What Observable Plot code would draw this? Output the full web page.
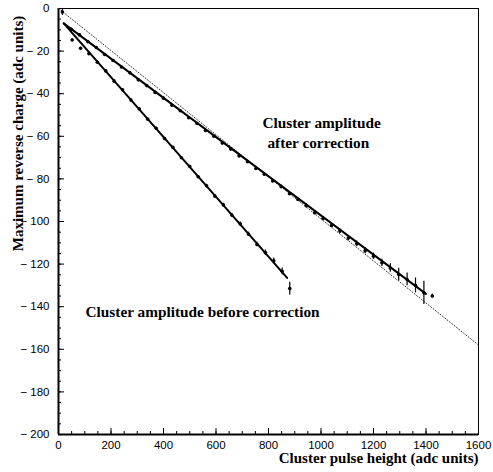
<!DOCTYPE html>
<html>
<head>
<meta charset="utf-8">
<script src="https://cdn.jsdelivr.net/npm/d3@7"></script>
<script src="https://cdn.jsdelivr.net/npm/@observablehq/plot@0.6"></script>
<style>
  html, body { margin: 0; padding: 0; background: #fff; }
  #chart { width: 493px; height: 472px; }
</style>
</head>
<body>
<div id="chart"></div>
<script>
// ---- data ----
const afterX = [15, 48, 80, 112, 144, 176, 208, 240, 272, 304, 336, 368, 400, 432, 464, 496, 528, 560, 592, 624, 656, 688, 720, 752, 784, 816, 848, 880, 912, 944, 976, 1008, 1040, 1072, 1104, 1136, 1168, 1200, 1232, 1264, 1296, 1328, 1360, 1392, 1424];
const afterY = [-1.7, -9.8, -12.4, -15.6, -18.3, -21.6, -24.4, -27.5, -30.2, -33.5, -36.2, -39.4, -42.1, -45.4, -48.0, -51.3, -54.0, -57.3, -60.0, -63.2, -66.0, -69.2, -71.9, -75.1, -77.8, -81.0, -83.7, -87.0, -89.7, -92.6, -95.9, -98.6, -101.9, -104.5, -107.8, -110.4, -113.7, -116.3, -119.4, -121.8, -124.9, -127.2, -130.0, -133.5, -135.0];
const afterErr = [1.5, 0.5, 0.5, 0.5, 0.5, 0.5, 0.5, 0.5, 0.5, 0.5, 0.5, 0.5, 0.5, 0.5, 0.5, 0.5, 0.5, 0.6, 0.6, 0.6, 0.6, 0.6, 0.7, 0.7, 0.7, 0.7, 0.8, 0.8, 0.8, 0.9, 0.9, 1.0, 1.0, 1.1, 1.2, 1.3, 1.4, 1.5, 1.7, 2.0, 3.0, 3.0, 3.5, 5.5, 0.8];

const beforeX = [52, 84, 116, 148, 180, 212, 244, 276, 308, 340, 372, 404, 436, 468, 500, 532, 564, 596, 628, 660, 692, 724, 756, 788, 820, 852, 881];
const beforeY = [-14.8, -18.7, -21.2, -25.2, -29.3, -34.1, -38.2, -43.0, -47.2, -52.0, -56.2, -61.0, -65.2, -70.1, -74.2, -79.0, -83.2, -88.1, -92.2, -97.0, -101.1, -106.0, -110.8, -114.6, -118.5, -123.4, -131.5];
const beforeErr = [0.5, 0.5, 0.5, 0.5, 0.5, 0.5, 0.5, 0.5, 0.5, 0.5, 0.5, 0.5, 0.5, 0.6, 0.6, 0.6, 0.7, 0.7, 0.8, 0.8, 0.9, 1.0, 1.1, 1.2, 1.4, 1.6, 3.0];

// fitted lines (end points)
const fitAfterX = [20, 1400];
const fitAfterY = [-7, -134];
const fitBeforeX = [20, 871];
const fitBeforeY = [-7, -126.5];
// dotted reference line
const refX = [0, 1600];
const refY = [0, -158];

// tick values
const xMajor = [0, 200, 400, 600, 800, 1000, 1200, 1400, 1600];
const xMinor = d3.range(0, 1601, 50);
const yMajor = [0, -20, -40, -60, -80, -100, -120, -140, -160, -180, -200];
const yMinor = d3.range(-200, 1, 5);

// annotations (data units)
const noteText = ["Cluster amplitude", "after correction", "Cluster amplitude before correction"];
const noteX = [777, 796, 103];
const noteY = [-53.8, -63.2, -142.7];

const xLabel = "Cluster pulse height (adc units)";
const yLabel = "Maximum reverse charge (adc units)";

// tables built from the arrays
const after = afterX.map((x, i) => ({x, y: afterY[i], e: afterErr[i]}));
const before = beforeX.map((x, i) => ({x, y: beforeY[i], e: beforeErr[i]}));
const fitAfter = fitAfterX.map((x, i) => ({x, y: fitAfterY[i]}));
const fitBefore = fitBeforeX.map((x, i) => ({x, y: fitBeforeY[i]}));
const ref = refX.map((x, i) => ({x, y: refY[i]}));
const notes = noteText.map((t, i) => ({t, x: noteX[i], y: noteY[i]}));
const pts = after.concat(before);

const serif = "'Liberation Serif', 'Times New Roman', serif";

const chart = Plot.plot({
  width: 493,
  height: 472,
  marginLeft: 58,
  marginRight: 15,
  marginTop: 8,
  marginBottom: 38,
  style: {fontFamily: "'Liberation Sans', Arial, sans-serif", fontSize: "11.5px", background: "white", color: "black"},
  x: {domain: [0, 1600]},
  y: {domain: [-200, 0]},
  marks: [
    // tick labels
    Plot.axisX({ticks: xMajor, tickSize: 0, tickPadding: 6, label: null, tickFormat: d => `${d}`, fontSize: 11.5}),
    Plot.axisY({ticks: yMajor, tickSize: 0, tickPadding: 9, label: null, tickFormat: d => d < 0 ? `\u2212 ${-d}` : `${d}`, fontSize: 11.5}),
    // inward ticks
    Plot.ruleX(xMinor, {x: d => d, y1: -200, y2: -200, insetTop: -3, stroke: "black", strokeWidth: 1}),
    Plot.ruleX(xMajor, {x: d => d, y1: -200, y2: -200, insetTop: -6, stroke: "black", strokeWidth: 1}),
    Plot.ruleY(yMinor, {y: d => d, x1: 0, x2: 0, insetRight: -3, stroke: "black", strokeWidth: 1}),
    Plot.ruleY(yMajor, {y: d => d, x1: 0, x2: 0, insetRight: -6, stroke: "black", strokeWidth: 1}),
    // frame
    Plot.frame({stroke: "black", strokeWidth: 1}),
    Plot.ruleX([0], {stroke: "black", strokeWidth: 2}),
    Plot.ruleY([-200], {stroke: "black", strokeWidth: 2}),
    // dotted reference
    Plot.line(ref, {x: "x", y: "y", stroke: "#333", strokeWidth: 1, strokeDasharray: "1,2"}),
    // fits
    Plot.line(fitAfter, {x: "x", y: "y", stroke: "black", strokeWidth: 2}),
    Plot.line(fitBefore, {x: "x", y: "y", stroke: "black", strokeWidth: 2}),
    // error bars and points
    Plot.ruleX(pts, {x: "x", y1: d => d.y - d.e, y2: d => d.y + d.e, stroke: "black", strokeWidth: 1.2}),
    Plot.dot(pts, {x: "x", y: "y", r: 1.8, fill: "black", stroke: null}),
    // annotations
    Plot.text(notes, {x: "x", y: "y", text: "t", textAnchor: "start", fontFamily: serif, fontWeight: "bold", fontSize: 15.3}),
    // axis titles
    Plot.text([xLabel], {frameAnchor: "bottom-right", textAnchor: "end", dy: 28, fontFamily: serif, fontWeight: "bold", fontSize: 15}),
    Plot.text([yLabel], {frameAnchor: "left", textAnchor: "middle", rotate: -90, dx: -40, dy: -88, fontFamily: serif, fontWeight: "bold", fontSize: 15})
  ]
});
document.getElementById("chart").appendChild(chart);
</script>
</body>
</html>
